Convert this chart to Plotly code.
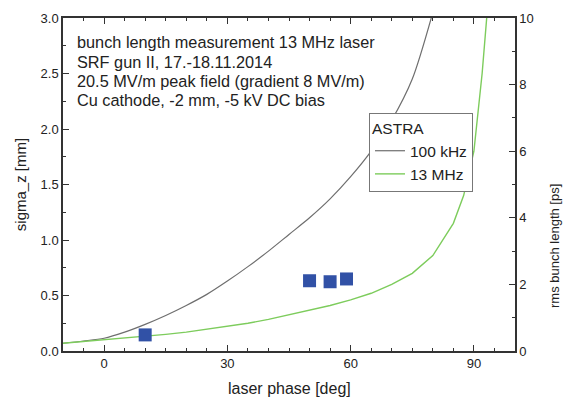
import plotly.graph_objects as go

# ASTRA simulations: bunch length vs laser phase
phase_100khz = [-10, -5, 0, 5, 10, 15, 20, 25, 30, 35, 40, 45, 50, 55, 60, 65, 70, 75, 80]
sigma_100khz = [0.07, 0.09, 0.115, 0.17, 0.24, 0.32, 0.41, 0.51, 0.63, 0.76, 0.90, 1.05,
                1.20, 1.37, 1.57, 1.80, 2.08, 2.45, 3.05]

phase_13mhz = [-10, -5, 0, 5, 10, 15, 20, 25, 30, 35, 40, 45, 50, 55, 60, 65, 70, 75, 80,
               85, 87.5, 90, 92, 94]
sigma_13mhz = [0.07, 0.085, 0.10, 0.115, 0.13, 0.15, 0.17, 0.195, 0.22, 0.25, 0.285, 0.325,
               0.37, 0.41, 0.46, 0.52, 0.60, 0.70, 0.86, 1.15, 1.40, 1.80, 2.50, 3.40]

# measured bunch length, 13 MHz laser
phase_meas = [10, 50, 55, 59]
sigma_meas = [0.145, 0.633, 0.624, 0.649]

info_lines = [
    "bunch length measurement 13 MHz laser",
    "SRF gun II, 17.-18.11.2014",
    "20.5 MV/m peak field (gradient 8 MV/m)",
    "Cu cathode, -2 mm, -5 kV DC bias",
]

W, H = 564, 399
ML, MR, MT, MB = 63, 49, 18, 48
plot_w = W - ML - MR
plot_h = H - MT - MB

FONT = "Liberation Sans, Arial, sans-serif"
TXT = "#222222"

fig = go.Figure()
fig.add_trace(go.Scatter(x=phase_100khz, y=sigma_100khz, mode="lines", name="100 kHz",
                         line=dict(color="#6e6e6e", width=1.2, shape="spline", smoothing=0.8)))
fig.add_trace(go.Scatter(x=phase_13mhz, y=sigma_13mhz, mode="lines", name="13 MHz",
                         line=dict(color="#7dcc5c", width=1.4)))
fig.add_trace(go.Scatter(x=phase_meas, y=sigma_meas, mode="markers", showlegend=False,
                         marker=dict(symbol="square", size=13, color="#3151a6",
                                     line=dict(width=0))))
# carrier for the right-hand time axis
fig.add_trace(go.Scatter(x=[None], y=[None], yaxis="y2", showlegend=False, hoverinfo="skip"))

def ypx_to_paper(ypx):
    return (H - MB - ypx) / plot_h

def xpx_to_paper(xpx):
    return (xpx - ML) / plot_w

for line, yc in zip(info_lines, [42, 61.5, 81, 100]):
    fig.add_annotation(text=line, xref="paper", yref="paper",
                       x=xpx_to_paper(75), y=ypx_to_paper(yc),
                       xanchor="left", yanchor="middle", showarrow=False,
                       font=dict(family=FONT, size=16.3, color=TXT))

# axis titles placed as annotations so the plot area keeps its margins
fig.add_annotation(text="laser phase [deg]", xref="paper", yref="paper",
                   x=0.5, y=ypx_to_paper(388), xanchor="center", yanchor="middle",
                   showarrow=False, font=dict(family=FONT, size=16, color=TXT))
fig.add_annotation(text="rms bunch length [ps]", xref="paper", yref="paper",
                   x=xpx_to_paper(554), y=ypx_to_paper(246), xanchor="center",
                   yanchor="middle", textangle=-90, showarrow=False,
                   font=dict(family=FONT, size=13, color=TXT))

axis_common = dict(showline=True, linecolor="#333333", linewidth=1.5, ticks="inside",
                   tickcolor="#333333", ticklen=6, tickwidth=1.2, showgrid=False,
                   zeroline=False, automargin=False,
                   tickfont=dict(family=FONT, size=13, color=TXT))

fig.update_layout(
    width=W, height=H,
    margin=dict(l=ML, r=MR, t=MT, b=MB, pad=0),
    paper_bgcolor="white", plot_bgcolor="white",
    font=dict(family=FONT, color=TXT),
    xaxis=dict(range=[-10, 100], tick0=0, dtick=30, mirror="ticks",
               minor=dict(ticks="inside", dtick=5, ticklen=3, tickcolor="#333333"),
               **axis_common),
    yaxis=dict(range=[0, 3.0], dtick=0.5, tickformat=".1f",
               minor=dict(ticks="inside", dtick=0.25, ticklen=3, tickcolor="#333333"),
               title=dict(text="sigma_z [mm]", font=dict(family=FONT, size=15, color=TXT),
                          standoff=10),
               **axis_common),
    yaxis2=dict(range=[0, 10], dtick=2, overlaying="y", side="right",
                minor=dict(ticks="inside", dtick=1, ticklen=3, tickcolor="#333333"),
                **axis_common),
    legend=dict(title=dict(text="ASTRA", font=dict(family=FONT, size=15.5, color=TXT)),
                x=xpx_to_paper(369), y=ypx_to_paper(113), xanchor="left", yanchor="top",
                bgcolor="white", bordercolor="#777777", borderwidth=1,
                font=dict(family=FONT, size=15.5, color=TXT)),
    showlegend=True,
)

fig.write_html("out.html")
